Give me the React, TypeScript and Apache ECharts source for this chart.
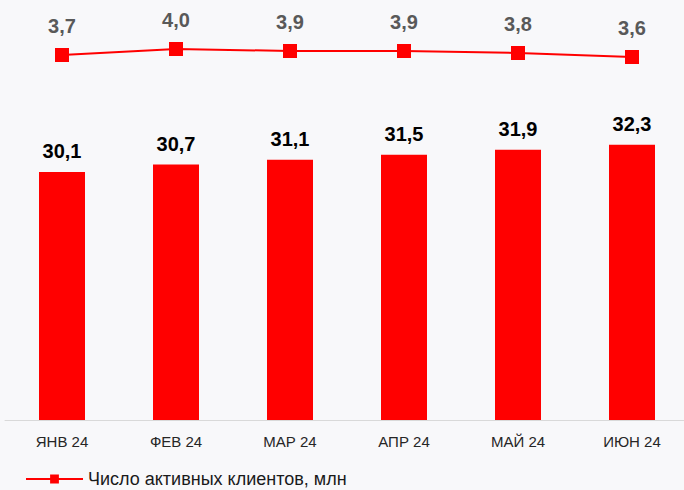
import React, { useEffect, useRef } from "react";
import * as echarts from "echarts";

const categories = ["ЯНВ 24", "ФЕВ 24", "МАР 24", "АПР 24", "МАЙ 24", "ИЮН 24"];
const barValues = [30.1, 30.7, 31.1, 31.5, 31.9, 32.3];
const lineValues = [3.7, 4.0, 3.9, 3.9, 3.8, 3.6];
const lineName = "Число активных клиентов, млн";

const fmt = (v: number) => v.toFixed(1).replace(".", ",");

export default function App() {
  const ref = useRef<HTMLDivElement>(null);
  useEffect(() => {
    if (!ref.current) return;
    const chart = echarts.init(ref.current, undefined, { renderer: "svg" });
    chart.setOption({
      animation: false,
      backgroundColor: "#F8F8FA",
      textStyle: { fontFamily: "Liberation Sans, Arial, sans-serif" },
      legend: {
        data: [lineName],
        left: 20,
        top: 465,
        itemWidth: 57,
        itemHeight: 11,
        itemGap: 10,
        textStyle: { fontSize: 18, color: "#1a1a1a" },
      },
      grid: [
        { left: 5, width: 684, top: 29, bottom: 70 },
        { left: 5, width: 684, top: 29, height: 40 },
      ],
      xAxis: [
        {
          type: "category",
          gridIndex: 0,
          data: categories,
          axisLine: { lineStyle: { color: "#D9D9D9", width: 1 } },
          axisTick: { show: false },
          axisLabel: { fontSize: 15, color: "#262626", margin: 14 },
        },
        {
          type: "category",
          gridIndex: 1,
          data: categories,
          show: false,
        },
      ],
      yAxis: [
        {
          type: "value",
          gridIndex: 0,
          min: 10,
          max: 10 + 391 / 12.34,
          show: false,
          splitLine: { show: false },
        },
        {
          type: "value",
          gridIndex: 1,
          min: 3,
          max: 5,
          show: false,
          splitLine: { show: false },
        },
      ],
      series: [
        {
          type: "bar",
          name: "bars",
          xAxisIndex: 0,
          yAxisIndex: 0,
          data: barValues,
          barWidth: 46,
          itemStyle: { color: "#FF0000" },
          label: {
            show: true,
            position: "top",
            distance: 11,
            fontSize: 20,
            fontWeight: "bold",
            color: "#000000",
            formatter: (p: any) => fmt(p.value),
          },
        },
        {
          type: "line",
          name: lineName,
          xAxisIndex: 1,
          yAxisIndex: 1,
          data: lineValues,
          symbol: "rect",
          symbolSize: 14,
          lineStyle: { color: "#FF0000", width: 2 },
          itemStyle: { color: "#FF0000" },
          label: {
            show: true,
            position: "top",
            distance: 12,
            fontSize: 20,
            fontWeight: "bold",
            color: "#595959",
            formatter: (p: any) => fmt(p.value),
          },
        },
      ],
    });
    return () => chart.dispose();
  }, []);
  return (
    <div
      style={{
        position: "absolute",
        left: 0,
        top: 0,
        width: 684,
        height: 490,
        overflow: "hidden",
        background: "#F8F8FA",
      }}
    >
      <div ref={ref} style={{ width: 694, height: 490 }} />
    </div>
  );
}
